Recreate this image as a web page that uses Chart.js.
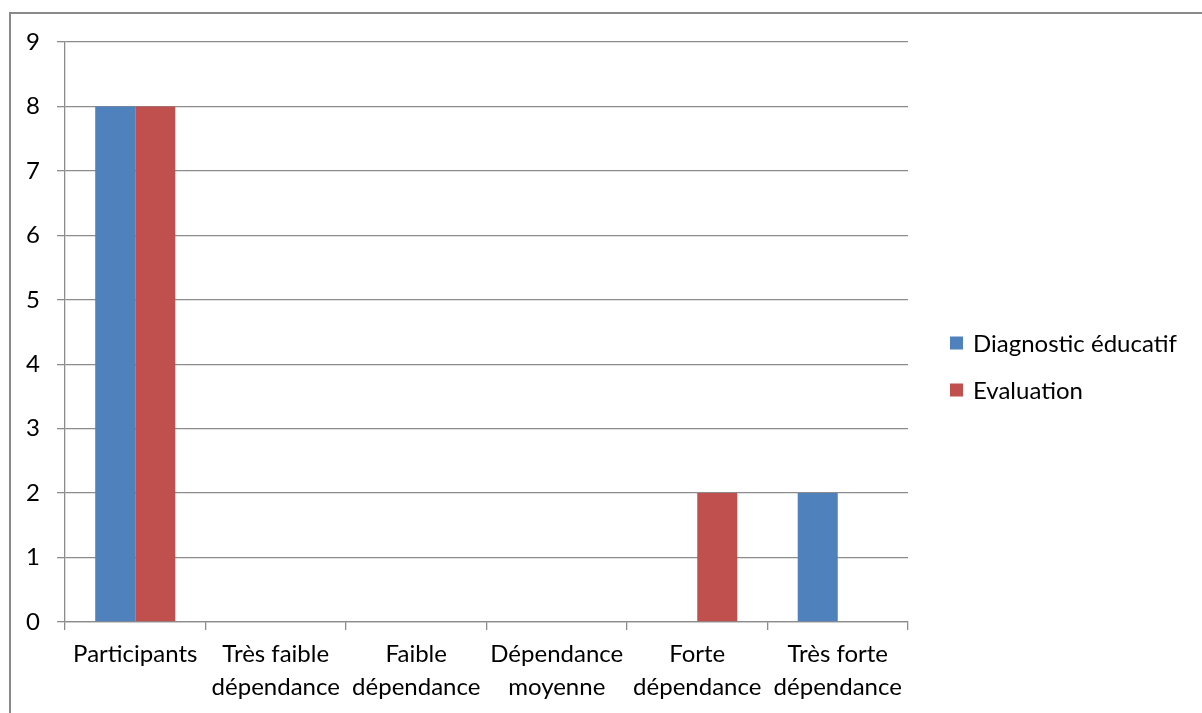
<!DOCTYPE html>
<html>
<head>
<meta charset="utf-8">
<script src="https://cdn.jsdelivr.net/npm/chart.js@4"></script>
<style>
  html, body { margin: 0; padding: 0; background: #fff; }
  .wrap { position: relative; width: 1202px; height: 713px; }
  .frame { position: absolute; left: 9px; top: 12px; right: -5px; bottom: -5px;
           border-left: 2px solid #8a8a8a; border-top: 2px solid #8a8a8a; pointer-events: none; }
  canvas { position: absolute; left: 0; top: 0; }
</style>
</head>
<body>
<div class="wrap">
  <canvas id="chart" width="1202" height="713"></canvas>
  <div class="frame"></div>
</div>
<script>
const categories = [
  'Participants',
  ['Très faible', 'dépendance'],
  ['Faible', 'dépendance'],
  ['Dépendance', 'moyenne'],
  ['Forte', 'dépendance'],
  ['Très forte', 'dépendance']
];
const diagnostic = [8, 0, 0, 0, 0, 2];
const evaluation = [8, 0, 0, 0, 2, 0];
const yTicks = [0, 1, 2, 3, 4, 5, 6, 7, 8, 9];

const FONT = 'Lato, "Open Sans", sans-serif';
const GRID = '#8c8c8c';

// legend drawn to the right of the plot, like the Excel original
const sideLegend = {
  id: 'sideLegend',
  afterDraw(chart) {
    const ctx = chart.ctx;
    const x = chart.chartArea.right + 42;
    let y = 343;
    ctx.save();
    ctx.font = '24px ' + FONT;
    ctx.textBaseline = 'middle';
    chart.data.datasets.forEach(ds => {
      ctx.fillStyle = ds.backgroundColor;
      ctx.fillRect(x, y - 6.5, 13, 13);
      ctx.fillStyle = '#000';
      ctx.fillText(ds.label, x + 23, y + 1);
      y += 47;
    });
    ctx.restore();
  }
};

new Chart(document.getElementById('chart'), {
  type: 'bar',
  data: {
    labels: categories,
    datasets: [
      { label: 'Diagnostic éducatif', data: diagnostic, backgroundColor: '#4F81BD' },
      { label: 'Evaluation', data: evaluation, backgroundColor: '#C0504D' }
    ]
  },
  plugins: [sideLegend],
  options: {
    responsive: false,
    animation: false,
    categoryPercentage: 0.57,
    barPercentage: 1,
    layout: { padding: { left: 15, top: 42, right: 294, bottom: 6 } },
    plugins: {
      tooltip: { enabled: false },
      legend: { display: false }
    },
    scales: {
      x: {
        grid: { display: true, drawOnChartArea: false, color: GRID, lineWidth: 1.3, tickLength: 8 },
        border: { color: GRID, width: 1.3 },
        ticks: {
          color: '#000',
          padding: 8,
          maxRotation: 0,
          autoSkip: false,
          font: { family: FONT, size: 24, lineHeight: 1.375 }
        },
        afterFit: s => { s.height = 85; }
      },
      y: {
        min: 0,
        max: 9,
        afterBuildTicks: s => { s.ticks = yTicks.map(v => ({ value: v })); },
        grid: { color: GRID, lineWidth: 1.3, tickLength: 8 },
        border: { color: GRID, width: 1.3 },
        ticks: {
          color: '#000',
          padding: 17,
          font: { family: FONT, size: 24 }
        },
        afterFit: s => { s.width = 50; }
      }
    }
  }
});
</script>
</body>
</html>
